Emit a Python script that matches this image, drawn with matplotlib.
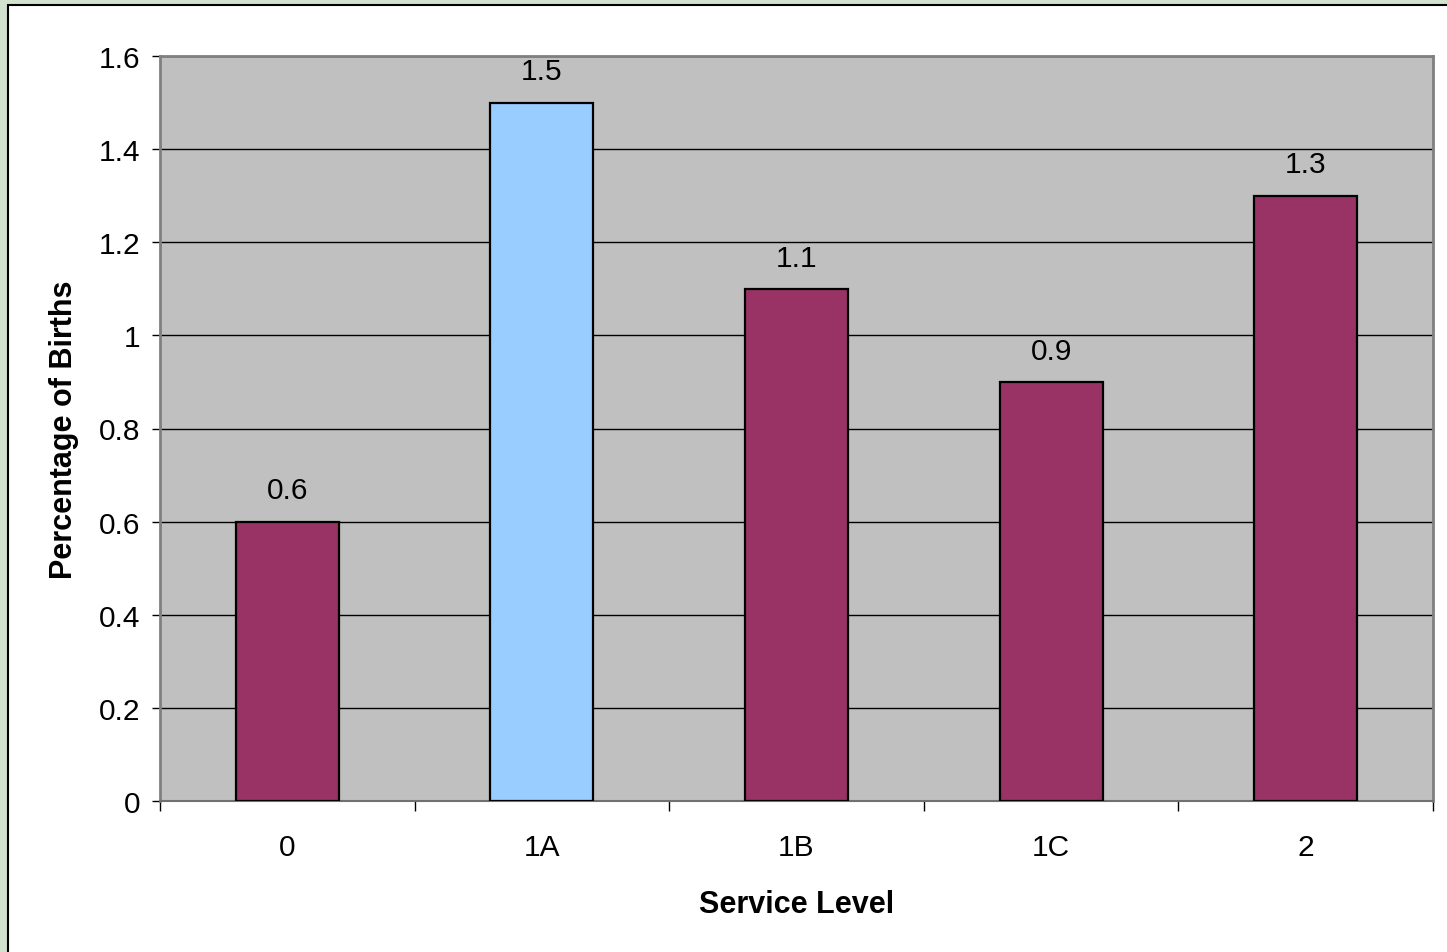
import matplotlib
matplotlib.use("Agg")
import matplotlib.pyplot as plt
from matplotlib.patches import Rectangle

plt.rcParams['font.family'] = ['Liberation Sans', 'DejaVu Sans']

categories = ["0", "1A", "1B", "1C", "2"]
values = [0.6, 1.5, 1.1, 0.9, 1.3]
bar_colors = ["#993366", "#99ccff", "#993366", "#993366", "#993366"]
y_ticks = [0, 0.2, 0.4, 0.6, 0.8, 1, 1.2, 1.4, 1.6]
y_tick_labels = ["0", "0.2", "0.4", "0.6", "0.8", "1", "1.2", "1.4", "1.6"]

FS = 21.5
W, H = 1447, 953
fig = plt.figure(figsize=(W / 100, H / 100), dpi=100)
fig.patch.set_facecolor("#d3e2cf")

# white chart panel with dark frame
panel = Rectangle((8 / W, -0.05), 1.1, 1 - 6 / H + 0.05, transform=fig.transFigure,
                  facecolor="white", edgecolor="black", linewidth=1.5, zorder=-10)
fig.patches.append(panel)

ax = fig.add_axes([160 / W, (H - 802) / H, (1433 - 160) / W, (802 - 57) / H])
ax.set_facecolor("#c0c0c0")

x = list(range(len(categories)))
bars = ax.bar(x, values, width=0.405, color=bar_colors, edgecolor="black",
              linewidth=1.6, zorder=3)
for xi, v in zip(x, values):
    ax.text(xi, v + 0.05, f"{v:g}", ha="center", va="baseline", fontsize=FS, zorder=4)

ax.set_xlim(-0.5, len(categories) - 0.5)
ax.set_ylim(0, 1.6)
ax.set_yticks(y_ticks)
ax.set_yticklabels(y_tick_labels, fontsize=FS)
ax.yaxis.grid(True, color="black", linewidth=1.0, zorder=1)
ax.set_axisbelow(True)

ax.set_xticks(x)
ax.set_xticklabels(categories, fontsize=FS)
ax.tick_params(axis="x", length=0, pad=23)
ax.set_xticks([i - 0.5 for i in range(len(categories) + 1)], minor=True)
ax.tick_params(axis="x", which="minor", length=7, width=1, color="black")
ax.tick_params(axis="y", length=6, width=1, color="black", pad=8)

for side in ["top", "right", "left"]:
    ax.spines[side].set_color("#808080")
    ax.spines[side].set_linewidth(2)
ax.spines["bottom"].set_color("#707070")
ax.spines["bottom"].set_linewidth(1.5)

ax.set_xlabel("Service Level", fontsize=FS + 0.5, fontweight="bold", labelpad=20)
ax.set_ylabel("Percentage of Births", fontsize=FS + 0.5, fontweight="bold", labelpad=14)

fig.savefig("out.png", dpi=100, facecolor=fig.get_facecolor())
